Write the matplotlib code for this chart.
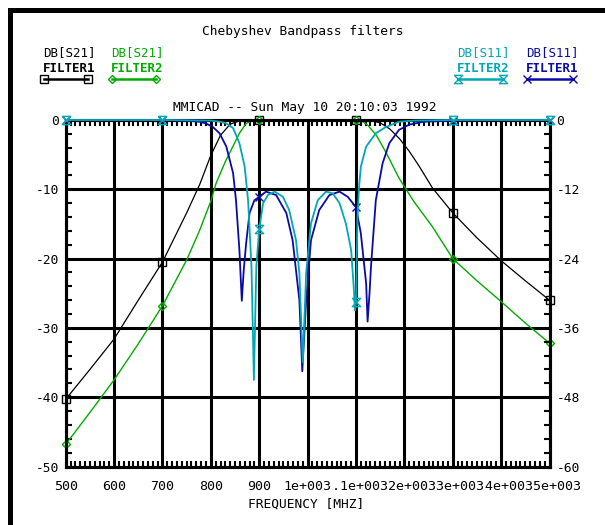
import matplotlib
matplotlib.use("Agg")
import matplotlib.pyplot as plt
from matplotlib.lines import Line2D
from matplotlib.ticker import MultipleLocator, FixedLocator
import matplotlib.transforms as mtransforms

# ---------------- data ----------------
# DB[S21] FILTER1 (left axis, dB)
f_s21_f1 = [500, 550, 600, 650, 700, 750, 777, 800, 820, 840, 860, 880, 900, 950,
            1000, 1050, 1100, 1130, 1150, 1170, 1190, 1210, 1230, 1258, 1300,
            1350, 1400, 1450, 1500]
s21_f1 = [-40.3, -36.0, -31.6, -26.0, -20.5, -13.4, -9.3, -5.1, -2.2, -0.6, -0.1,
          0.0, 0.0, 0.0, 0.0, 0.0, 0.0, -0.1, -0.4, -1.3, -2.7, -4.5, -6.6, -9.8,
          -13.4, -17.0, -20.3, -23.2, -26.0]

# DB[S21] FILTER2 (left axis, dB)
f_s21_f2 = [500, 550, 600, 650, 700, 750, 777, 800, 811, 830, 845, 860, 873, 885,
            900, 950, 1000, 1050, 1100, 1113, 1125, 1142, 1163, 1189, 1220, 1258,
            1300, 1350, 1400, 1450, 1500]
s21_f2 = [-46.8, -42.2, -37.5, -32.3, -26.8, -20.2, -15.9, -11.7, -9.1, -6.0, -3.9,
          -1.8, -0.5, -0.1, 0.0, -0.1, 0.0, -0.1, 0.0, -0.2, -0.8, -2.2, -4.8, -8.4,
          -11.8, -15.4, -20.0, -23.2, -26.2, -29.3, -32.2]

# DB[S11] FILTER2 (right axis, dB)
f_s11_f2 = [500, 600, 700, 800, 820, 832, 846, 859, 870, 877, 884, 889, 894, 900,
            908, 918, 932, 949, 962, 976, 983, 990, 997, 1007, 1021, 1038, 1052,
            1066, 1079, 1090, 1095, 1098, 1100, 1103, 1106, 1110, 1121, 1141, 1162,
            1189, 1220, 1300, 1400, 1500]
s11_f2 = [0.0, 0.0, 0.0, -0.1, -0.3, -0.6, -1.4, -4.0, -8.1, -13.9, -25.4, -45.0,
          -25.4, -18.9, -14.4, -13.0, -12.4, -13.3, -15.6, -20.8, -26.5, -42.0,
          -26.5, -17.9, -13.9, -12.4, -12.7, -14.4, -17.9, -22.5, -28.5, -33.0,
          -31.6, -17.0, -12.0, -8.1, -4.6, -2.3, -1.2, -0.3, -0.1, 0.0, 0.0, 0.0]

# DB[S11] FILTER1 (right axis, dB)
f_s11_f1 = [500, 600, 700, 750, 777, 790, 804, 818, 832, 846, 852, 859, 864, 868,
            873, 880, 890, 900, 914, 935, 956, 969, 983, 989, 997, 1007, 1024, 1045,
            1066, 1083, 1100, 1110, 1121, 1124, 1128, 1131, 1141, 1155, 1169, 1189,
            1210, 1240, 1300, 1400, 1500]
s11_f1 = [0.0, 0.0, 0.0, -0.1, -0.3, -0.6, -1.2, -2.3, -4.6, -9.2, -13.9, -22.5,
          -31.3, -26.0, -21.3, -16.1, -13.9, -13.3, -12.4, -13.0, -16.1, -20.8,
          -31.2, -43.5, -31.2, -20.8, -15.6, -13.0, -12.4, -13.3, -15.1, -19.6,
          -28.3, -34.9, -30.0, -25.4, -13.9, -7.5, -4.0, -1.7, -0.8, -0.3, -0.1,
          0.0, 0.0]

marker_freqs = [500, 700, 900, 1100, 1300, 1500]

x_ticks = [500, 600, 700, 800, 900, 1000, 1100, 1200, 1300, 1400, 1500]
x_labels = ["500", "600", "700", "800", "900", "1e+003", "1.1e+003", "1.2e+003",
            "1.3e+003", "1.4e+003", "1.5e+003"]
yl_ticks = [0, -10, -20, -30, -40, -50]
yl_labels = ["0", "-10", "-20", "-30", "-40", "-50"]
yr_ticks = [0, -12, -24, -36, -48, -60]
yr_labels = ["0", "-12", "-24", "-36", "-48", "-60"]

title = "Chebyshev Bandpass filters"
subtitle = "MMICAD -- Sun May 10 20:10:03 1992"
xlabel = "FREQUENCY [MHZ]"

C_BLACK = "#000000"
C_GREEN = "#00ac00"
C_CYAN = "#00a8b4"
C_BLUE = "#0a0aa8"

HOURGLASS = [(-1, 1), (1, 1), (-1, -1), (1, -1), (-1, 1)]

# ---------------- figure ----------------
W, H = 605, 525
plt.rcParams["font.family"] = ["DejaVu Sans Mono", "DejaVu Sans"]
plt.rcParams["font.size"] = 9
fig = plt.figure(figsize=(W / 100, H / 100), dpi=100)


def fx(px):
    return px / W


def fy(py):
    return 1 - py / H


L, R, T, B = 65.7, 549.5, 120.0, 466.5
ax = fig.add_axes([fx(L), fy(B), fx(R) - fx(L), fy(T) - fy(B)])
ax2 = ax.twinx()

ax.set_xlim(500, 1500)
ax.set_ylim(-50, 0)
ax2.set_ylim(-60, 0)

LW = 2.2
for a in (ax, ax2):
    for s in a.spines.values():
        s.set_linewidth(LW)
        s.set_color("black")
    a.set_facecolor("none")

ax.xaxis.set_major_locator(FixedLocator(x_ticks))
ax.xaxis.set_minor_locator(MultipleLocator(10))
ax.set_xticklabels([])
ax.yaxis.set_major_locator(FixedLocator(yl_ticks))
ax.set_yticklabels(yl_labels)
ax.yaxis.set_minor_locator(MultipleLocator(2))
ax2.yaxis.set_major_locator(FixedLocator(yr_ticks))
ax2.set_yticklabels(yr_labels)
ax2.yaxis.set_minor_locator(MultipleLocator(2.4))

ax.tick_params(which="major", length=0, pad=6, labelsize=9.3)
ax.tick_params(which="minor", direction="in", length=4.3, width=1.5,
               top=True, bottom=True, left=True, right=False)
ax.tick_params(axis="y", which="major", pad=5)
ax2.tick_params(which="major", length=0, pad=5, labelsize=9.3)
ax2.tick_params(which="minor", direction="in", length=4.3, width=1.5)

ax.grid(True, which="major", color="black", linewidth=LW)
ax.set_axisbelow(True)

# x tick labels: earlier labels drawn on top of later ones (as in the plot)
trans = mtransforms.blended_transform_factory(ax.transData, ax.transAxes)
for i, (xv, lab) in enumerate(zip(x_ticks, x_labels)):
    ax.text(xv, -(486 - B) / (B - T), lab, transform=trans, ha="center",
            va="center", fontsize=9.6, zorder=100 - i, clip_on=False,
            bbox=dict(facecolor="white", edgecolor="none", pad=0.0))


def idx(freqs):
    return [i for i, f in enumerate(freqs) if f in marker_freqs]


ax.plot(f_s21_f1, s21_f1, color=C_BLACK, lw=0.9, marker="s", ms=5.5, mfc="none",
        mec=C_BLACK, mew=1.0, markevery=idx(f_s21_f1), clip_on=False, zorder=5)
ax.plot(f_s21_f2, s21_f2, color=C_GREEN, lw=1.0, marker="D", ms=4, mfc="none",
        mec=C_GREEN, mew=1.0, markevery=idx(f_s21_f2), clip_on=False, zorder=5)
ax2.plot(f_s11_f1, s11_f1, color=C_BLUE, lw=1.3, marker="x", ms=6, mec=C_BLUE,
         mew=1.0, markevery=idx(f_s11_f1), clip_on=False, zorder=5)
ax2.plot(f_s11_f2, s11_f2, color=C_CYAN, lw=1.3, marker=HOURGLASS, ms=6, mfc="none",
         mec=C_CYAN, mew=1.0, markevery=idx(f_s11_f2), clip_on=False, zorder=6)

# ---------------- texts ----------------
fig.text(fx(303), fy(31), title, ha="center", va="center", fontsize=9.3)
fig.text(fx(305), fy(107), subtitle, ha="center", va="center", fontsize=9.3)
fig.text(fx(306), fy(504), xlabel, ha="center", va="center", fontsize=9.3)

legend_items = [
    (43, 88, "DB[S21]", "FILTER1", C_BLACK, dict(marker="s", ms=5.5, mfc="none")),
    (111, 156, "DB[S21]", "FILTER2", C_GREEN, dict(marker="D", ms=4, mfc="none")),
    (457, 503, "DB[S11]", "FILTER2", C_CYAN, dict(marker=HOURGLASS, ms=6, mfc="none")),
    (526, 573, "DB[S11]", "FILTER1", C_BLUE, dict(marker="x", ms=6)),
]
for x0, x1, t1, t2, c, mk in legend_items:
    fig.text(fx(x0), fy(53), t1, ha="left", va="center", color=c, fontsize=9)
    fig.text(fx(x0), fy(68), t2, ha="left", va="center", color=c, fontsize=9,
             fontweight="bold")
    fig.add_artist(Line2D([fx(x0 + 1), fx(x1)], [fy(79), fy(79)], color=c, lw=1.8,
                          mec=c, mew=1.0, transform=fig.transFigure, **mk))

# outer frame (top and left only)
fig.add_artist(Line2D([fx(9.5), fx(W)], [fy(9.5), fy(9.5)], color="black", lw=3.6,
                      transform=fig.transFigure, solid_capstyle="projecting"))
fig.add_artist(Line2D([fx(9.5), fx(9.5)], [fy(9.5), fy(H)], color="black", lw=3.6,
                      transform=fig.transFigure, solid_capstyle="projecting"))

fig.savefig("out.png", dpi=100)
